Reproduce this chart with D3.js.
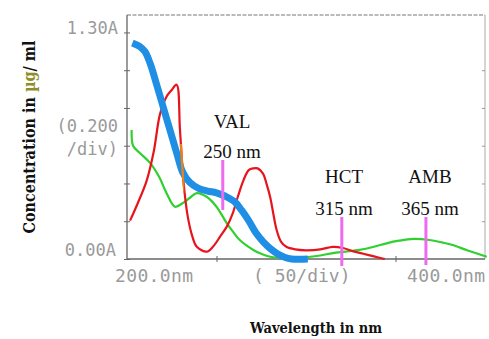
<!DOCTYPE html>
<html>
<head>
<meta charset="utf-8">
<script src="https://cdn.jsdelivr.net/npm/d3@7"></script>
<style>
  body { margin: 0; background: #fff; }
  svg { display: block; }
</style>
</head>
<body>
<div id="chart"></div>
<script>
// spectra: [wavelength nm, absorbance]
const hctSpectrum = [
  [203, 1.24], [207, 1.22], [210, 1.19], [213, 1.12], [216, 1.02], [220, 0.88],
  [224, 0.74], [228, 0.60], [231, 0.50], [235, 0.44], [240, 0.405], [245, 0.39],
  [250, 0.38], [255, 0.36], [260, 0.33], [264, 0.28], [268, 0.22], [272, 0.15],
  [276, 0.10], [280, 0.06], [284, 0.03], [288, 0.01], [292, 0.0], [301, 0.0]
];
const valSpectrum = [
  [201.7, 0.22], [206, 0.32], [211, 0.45], [215, 0.62], [218.4, 0.83], [222, 0.93],
  [225, 0.97], [227.7, 1.0], [229.6, 0.74], [231.5, 0.45], [234, 0.24], [236.5, 0.13],
  [239, 0.07], [244.5, 0.042], [248, 0.07], [252, 0.128], [256, 0.19], [259, 0.26],
  [262, 0.36], [265, 0.45], [268, 0.51], [270.6, 0.52], [273, 0.52], [276, 0.49],
  [278, 0.43], [280, 0.355], [283.6, 0.166], [286, 0.10], [289, 0.07], [294, 0.055],
  [300, 0.05], [308, 0.055], [315, 0.07], [320.7, 0.063], [326, 0.045], [332, 0.03],
  [338, 0.015], [344, 0.0]
];
const ambSpectrum = [
  [202.6, 0.74], [203.4, 0.65], [207, 0.61], [213, 0.55], [218, 0.47], [222, 0.38],
  [226.8, 0.30], [231, 0.32], [235, 0.35], [239, 0.378], [244.5, 0.357], [250, 0.30],
  [255.7, 0.206], [259, 0.16], [263, 0.109], [270.6, 0.052], [275, 0.03], [280, 0.013],
  [289, 0.006], [300, 0.01], [308, 0.02], [315, 0.034], [322, 0.042], [330, 0.052],
  [338, 0.07], [345, 0.09], [352, 0.105], [360, 0.115], [369, 0.109], [376, 0.095],
  [382, 0.08], [390, 0.05], [396, 0.03], [401, 0.013]
];

const markerNames = ["VAL", "HCT", "AMB"];
const markerLabels = ["250 nm", "315 nm", "365 nm"];
const markerWavelengths = [253.5, 320, 367];

const yTickLabels = ["0.00A", "1.30A"];
const xTickLabels = ["200.0nm", "( 50/div)", "400.0nm"];

const width = 489, height = 339;

const svg = d3.select("#chart").append("svg")
  .attr("width", width)
  .attr("height", height);

const x = d3.scaleLinear().domain([200, 400]).range([127, 485]);
const y = d3.scaleLinear().domain([0, 1.4]).range([259, 15]);

const yTicks = d3.range(7).map(i => i * 1.3 / 6);
const xTicks = [250, 300, 350];

// frame
const frame = svg.append("g");
frame.append("line")
  .attr("x1", x(200)).attr("x2", x(400)).attr("y1", y(1.4)).attr("y2", y(1.4))
  .attr("stroke", "#777").attr("stroke-dasharray", "4,1.5").attr("stroke-width", 1.2);
frame.append("line")
  .attr("x1", x(400)).attr("x2", x(400)).attr("y1", y(1.4)).attr("y2", y(0))
  .attr("stroke", "#aaa").attr("stroke-width", 1);

const yAxis = svg.append("g")
  .attr("transform", `translate(${x(200)},0)`)
  .call(d3.axisLeft(y).tickValues(yTicks).tickSize(3).tickFormat(""));
yAxis.select(".domain").attr("stroke", "#666").attr("stroke-width", 1.3)
  .attr("d", `M0,${y(1.4)}V${y(0)}`);
yAxis.selectAll(".tick line").attr("stroke", "#666").attr("x1", 3).attr("x2", -3);

svg.append("g")
  .attr("transform", `translate(${x(400)},0)`)
  .call(d3.axisRight(y).tickValues(yTicks.slice(1, 6)).tickSize(3).tickFormat(""))
  .call(g => g.select(".domain").remove())
  .selectAll(".tick line").attr("stroke", "#999").attr("x1", -3).attr("x2", 0);

const xAxis = svg.append("g")
  .attr("transform", `translate(0,${y(0)})`)
  .call(d3.axisBottom(x).tickValues(xTicks).tickSize(3).tickFormat(""));
xAxis.select(".domain").attr("stroke", "#666").attr("stroke-width", 1.3)
  .attr("d", `M${x(200)},0H${x(400)}`);
xAxis.selectAll(".tick line").attr("stroke", "#666").attr("y1", -3).attr("y2", 3);

// instrument labels
const mono = "'DejaVu Sans Mono', monospace";
svg.append("text").attr("x", 118).attr("y", y(1.3) + 2)
  .attr("text-anchor", "end").attr("font-family", mono).attr("font-size", 17)
  .attr("fill", "#9a9a9a").text(yTickLabels[1]);
svg.append("text").attr("x", 116).attr("y", y(0) - 3)
  .attr("text-anchor", "end").attr("font-family", mono).attr("font-size", 17)
  .attr("fill", "#9a9a9a").text(yTickLabels[0]);
svg.append("text").attr("x", 118).attr("y", 132)
  .attr("text-anchor", "end").attr("font-family", mono).attr("font-size", 17)
  .attr("fill", "#9a9a9a").text("(0.200");
svg.append("text").attr("x", 118).attr("y", 155)
  .attr("text-anchor", "end").attr("font-family", mono).attr("font-size", 17)
  .attr("fill", "#9a9a9a").text("/div)");

svg.append("text").attr("x", x(200) - 12).attr("y", 282)
  .attr("font-family", mono).attr("font-size", 18).attr("fill", "#9a9a9a")
  .attr("textLength", 78).text(xTickLabels[0]);
svg.append("text").attr("x", 253).attr("y", 282)
  .attr("font-family", mono).attr("font-size", 18).attr("fill", "#9a9a9a")
  .attr("xml:space", "preserve").text(xTickLabels[1]);
svg.append("text").attr("x", x(400)).attr("y", 282)
  .attr("text-anchor", "end").attr("font-family", mono).attr("font-size", 18)
  .attr("fill", "#9a9a9a").attr("textLength", 78).text(xTickLabels[2]);

// spectra
const line = d3.line()
  .x(d => x(d[0]))
  .y(d => y(d[1]))
  .curve(d3.curveCatmullRom.alpha(0.5));

svg.append("path").datum(ambSpectrum).attr("d", line)
  .attr("fill", "none").attr("stroke", "#2fd02f").attr("stroke-width", 2.2);
svg.append("path").datum(valSpectrum).attr("d", line)
  .attr("fill", "none").attr("stroke", "#e8141c").attr("stroke-width", 2.2);
svg.append("path").datum(hctSpectrum).attr("d", line)
  .attr("fill", "none").attr("stroke", "#1f8fe5").attr("stroke-width", 7)
  .attr("stroke-linejoin", "round");

// orange overlap where the red drop crosses the blue band
svg.append("clipPath").attr("id", "overlap")
  .append("rect")
  .attr("x", x(228.8)).attr("width", x(232) - x(228.8))
  .attr("y", y(0.66)).attr("height", y(0.38) - y(0.66));
svg.append("path").datum(valSpectrum).attr("d", line)
  .attr("clip-path", "url(#overlap)")
  .attr("fill", "none").attr("stroke", "#e8821e").attr("stroke-width", 2.4);

// wavelength markers
const markerTop = [160, 217, 217];
const markerBottom = [210, 266, 265];
const serif = "'Liberation Serif', 'Times New Roman', serif";
markerWavelengths.forEach((wl, i) => {
  svg.append("line")
    .attr("x1", x(wl)).attr("x2", x(wl))
    .attr("y1", markerTop[i]).attr("y2", markerBottom[i])
    .attr("stroke", "#ee6aee").attr("stroke-width", 3);
});
const labelX = [232, 344, 430];
const nameY = [128, 183, 183];
const unitY = [158, 215, 215];
markerNames.forEach((n, i) => {
  svg.append("text").attr("x", labelX[i]).attr("y", nameY[i])
    .attr("text-anchor", "middle").attr("font-family", serif).attr("font-size", 19)
    .attr("fill", "#111").text(n);
  svg.append("text").attr("x", labelX[i]).attr("y", unitY[i])
    .attr("text-anchor", "middle").attr("font-family", serif).attr("font-size", 19)
    .attr("fill", "#111").text(markerLabels[i]);
});

// axis titles
const yTitle = svg.append("text")
  .attr("transform", "translate(35,137) rotate(-90)")
  .attr("text-anchor", "middle")
  .attr("font-family", "'DejaVu Serif', serif").attr("font-weight", "bold")
  .attr("font-size", 16).attr("fill", "#111")
  .attr("textLength", 193).attr("lengthAdjust", "spacingAndGlyphs");
yTitle.append("tspan").text("Concentration in ");
yTitle.append("tspan").attr("fill", "#8f8f2a").text("µg");
yTitle.append("tspan").text("/ ml");

svg.append("text").attr("x", 316).attr("y", 333)
  .attr("text-anchor", "middle")
  .attr("font-family", "'DejaVu Serif', serif").attr("font-weight", "bold")
  .attr("font-size", 15).attr("fill", "#111")
  .attr("textLength", 132).attr("lengthAdjust", "spacingAndGlyphs")
  .text("Wavelength in nm");
</script>
</body>
</html>
